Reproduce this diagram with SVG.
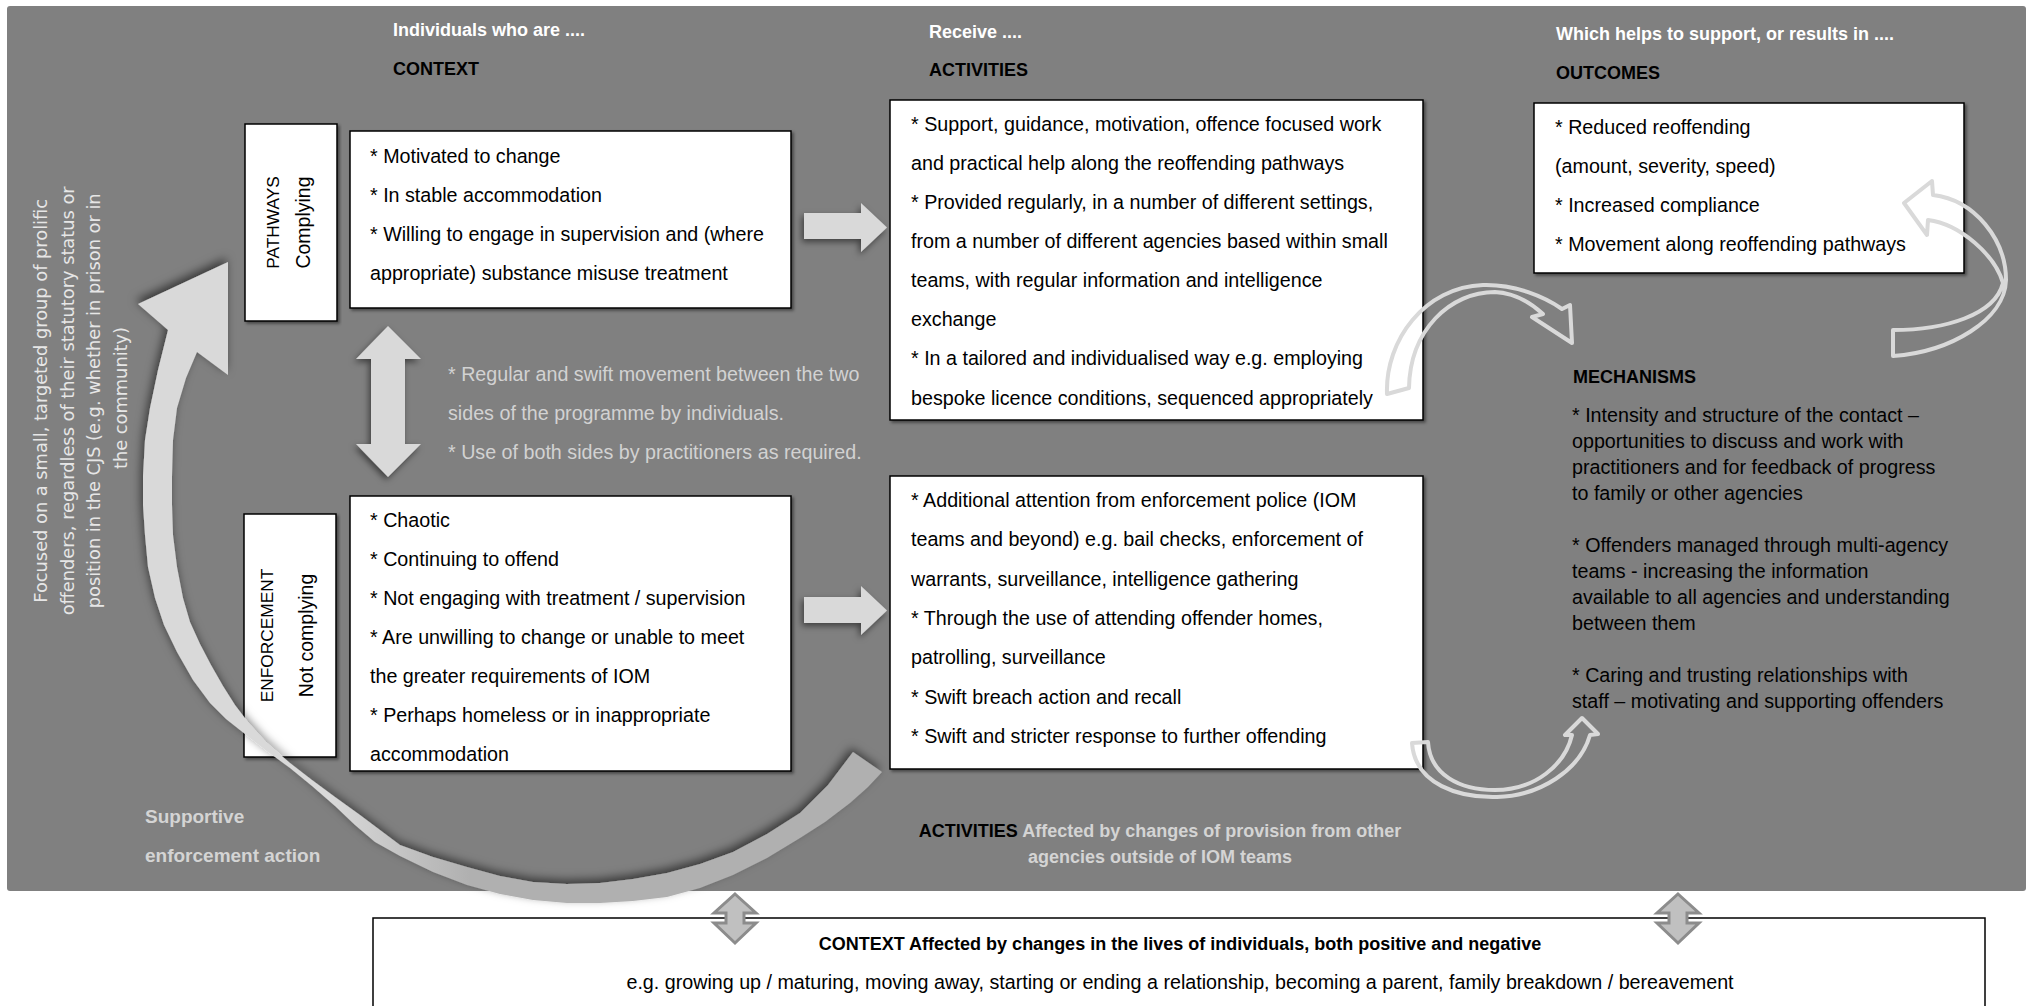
<svg xmlns="http://www.w3.org/2000/svg" width="2034" height="1006" viewBox="0 0 2034 1006">
<defs>
<style>
.t{font-family:"Liberation Sans",Arial,sans-serif;font-size:19.7px;fill:#000}
.hw{font-family:"Liberation Sans",Arial,sans-serif;font-size:18px;font-weight:bold;fill:#fff}
.hb{font-family:"Liberation Sans",Arial,sans-serif;font-size:18px;font-weight:bold;fill:#000}
.g{fill:#d2d2d2}
.box{fill:#fff;stroke:#000;stroke-width:1.5}
.la{fill:#d9d9d9}
.ol{fill:none;stroke:#d9d9d9;stroke-width:4;stroke-linejoin:round}
.sa{fill:#c0c0c0;stroke:#8c8c8c;stroke-width:3;stroke-linejoin:miter}
.vt{font-family:"DejaVu Sans",Verdana,sans-serif;font-size:17.8px;fill:#e6e6e6}
.lc{font-family:"Liberation Sans",Arial,sans-serif;font-size:17.3px;fill:#000}
.ll{font-family:"Liberation Sans",Arial,sans-serif;font-size:19.5px;fill:#000}
.sp{font-family:"Liberation Sans",Arial,sans-serif;font-size:19px;font-weight:bold;fill:#d4d4d4}
</style>
<filter id="bsh" x="-5%" y="-5%" width="110%" height="110%"><feDropShadow dx="2" dy="2" stdDeviation="1.5" flood-color="#000" flood-opacity="0.45"/></filter>
<filter id="ash" x="-30%" y="-30%" width="160%" height="160%"><feDropShadow dx="-2" dy="3" stdDeviation="3" flood-color="#000" flood-opacity="0.5"/></filter>
<filter id="csh" x="-20%" y="-20%" width="140%" height="140%"><feDropShadow dx="-2" dy="-4" stdDeviation="5" flood-color="#000" flood-opacity="0.55"/></filter>
<linearGradient id="cg" gradientUnits="userSpaceOnUse" x1="330" y1="0" x2="470" y2="0">
<stop offset="0" stop-color="#d9d9d9"/><stop offset="1" stop-color="#b0b0b0"/>
</linearGradient>
</defs>

<rect id="background" x="7" y="6" width="2019" height="885" rx="3" fill="#808080"/>

<g id="side-label">
<text class="vt" transform="translate(47,398) rotate(-90)" text-anchor="middle">
<tspan x="0" y="0">Focused on a small, targeted group of prolific</tspan>
<tspan x="0" y="26.5">offenders, regardless of their statutory status or</tspan>
<tspan x="0" y="53">position in the CJS (e.g. whether in prison or in</tspan>
<tspan x="0" y="79.5">the community)</tspan>
</text>
</g>

<g id="headers">
<text class="hw" x="393" y="36">Individuals who are ....</text>
<text class="hb" x="393" y="75">CONTEXT</text>
<text class="hw" x="929" y="38">Receive ....</text>
<text class="hb" x="929" y="76">ACTIVITIES</text>
<text class="hw" x="1556" y="40">Which helps to support, or results in ....</text>
<text class="hb" x="1556" y="79">OUTCOMES</text>
</g>

<g id="pathways-label">
<rect class="box" x="245" y="124" width="92" height="197" filter="url(#bsh)"/>
<text class="lc" transform="translate(279,222.5) rotate(-90)" text-anchor="middle">PATHWAYS</text>
<text class="ll" transform="translate(310,222.5) rotate(-90)" text-anchor="middle">Complying</text>
</g>

<g id="enforcement-label">
<rect class="box" x="244" y="514" width="92" height="243" filter="url(#bsh)"/>
<text class="lc" transform="translate(273,635.5) rotate(-90)" text-anchor="middle">ENFORCEMENT</text>
<text class="ll" transform="translate(313,635.5) rotate(-90)" text-anchor="middle">Not complying</text>
</g>

<g id="context-pathways">
<rect class="box" x="350" y="131" width="441" height="177" filter="url(#bsh)"/>
<text class="t" x="370" y="163">* Motivated to change</text>
<text class="t" x="370" y="202">* In stable accommodation</text>
<text class="t" x="370" y="241">* Willing to engage in supervision and (where</text>
<text class="t" x="370" y="280">appropriate) substance misuse treatment</text>
</g>

<g id="context-enforcement">
<rect class="box" x="350" y="496" width="441" height="275" filter="url(#bsh)"/>
<text class="t" x="370" y="527">* Chaotic</text>
<text class="t" x="370" y="566">* Continuing to offend</text>
<text class="t" x="370" y="605">* Not engaging with treatment / supervision</text>
<text class="t" x="370" y="644">* Are unwilling to change or unable to meet</text>
<text class="t" x="370" y="683">the greater requirements of IOM</text>
<text class="t" x="370" y="722">* Perhaps homeless or in inappropriate</text>
<text class="t" x="370" y="761">accommodation</text>
</g>

<g id="activities-pathways">
<rect class="box" x="890" y="100" width="533" height="320" filter="url(#bsh)"/>
<text class="t" x="911" y="131">* Support, guidance, motivation, offence focused work</text>
<text class="t" x="911" y="170">and practical help along the reoffending pathways</text>
<text class="t" x="911" y="209">* Provided regularly, in a number of different settings,</text>
<text class="t" x="911" y="248">from a number of different agencies based within small</text>
<text class="t" x="911" y="287">teams, with regular information and intelligence</text>
<text class="t" x="911" y="326">exchange</text>
<text class="t" x="911" y="365">* In a tailored and individualised way e.g. employing</text>
<text class="t" x="911" y="405">bespoke licence conditions, sequenced appropriately</text>
</g>

<g id="activities-enforcement">
<rect class="box" x="890" y="476" width="533" height="293" filter="url(#bsh)"/>
<text class="t" x="911" y="507">* Additional attention from enforcement police (IOM</text>
<text class="t" x="911" y="546">teams and beyond) e.g. bail checks, enforcement of</text>
<text class="t" x="911" y="586">warrants, surveillance, intelligence gathering</text>
<text class="t" x="911" y="625">* Through the use of attending offender homes,</text>
<text class="t" x="911" y="664">patrolling, surveillance</text>
<text class="t" x="911" y="704">* Swift breach action and recall</text>
<text class="t" x="911" y="743">* Swift and stricter response to further offending</text>
</g>

<g id="outcomes">
<rect class="box" x="1534" y="103" width="430" height="170" filter="url(#bsh)"/>
<text class="t" x="1555" y="134">* Reduced reoffending</text>
<text class="t" x="1555" y="173">(amount, severity, speed)</text>
<text class="t" x="1555" y="212">* Increased compliance</text>
<text class="t" x="1555" y="251">* Movement along reoffending pathways</text>
</g>

<g id="mechanisms">
<text class="hb" x="1573" y="383">MECHANISMS</text>
<text class="t" x="1572" y="422">* Intensity and structure of the contact –</text>
<text class="t" x="1572" y="448">opportunities to discuss and work with</text>
<text class="t" x="1572" y="474">practitioners and for feedback of progress</text>
<text class="t" x="1572" y="500">to family or other agencies</text>
<text class="t" x="1572" y="552">* Offenders managed through multi-agency</text>
<text class="t" x="1572" y="578">teams - increasing the information</text>
<text class="t" x="1572" y="604">available to all agencies and understanding</text>
<text class="t" x="1572" y="630">between them</text>
<text class="t" x="1572" y="682">* Caring and trusting relationships with</text>
<text class="t" x="1572" y="708">staff – motivating and supporting offenders</text>
</g>

<g id="movement-note">
<text class="t g" x="448" y="381">* Regular and swift movement between the two</text>
<text class="t g" x="448" y="420">sides of the programme by individuals.</text>
<text class="t g" x="448" y="459">* Use of both sides by practitioners as required.</text>
</g>

<g id="supportive-label">
<text class="sp" x="145" y="823">Supportive</text>
<text class="sp" x="145" y="862">enforcement action</text>
</g>

<g id="activities-note">
<text class="hb" x="1160" y="837" text-anchor="middle">ACTIVITIES <tspan style="fill:#d4d4d4">Affected by changes of provision from other</tspan></text>
<text class="hb" x="1160" y="863" text-anchor="middle" style="fill:#d4d4d4">agencies outside of IOM teams</text>
</g>

<g id="context-changes">
<rect class="box" x="373" y="918" width="1612" height="100"/>
<text class="hb" x="1180" y="950" text-anchor="middle">CONTEXT Affected by changes in the lives of individuals, both positive and negative</text>
<text class="t" x="1180" y="989" text-anchor="middle">e.g. growing up / maturing, moving away, starting or ending a relationship, becoming a parent, family breakdown / bereavement</text>
</g>

<g id="connectors">
<polygon class="la" filter="url(#ash)" points="804,213 861,213 861,203 887,227.5 861,252 861,239 804,239"/>
<polygon class="la" filter="url(#ash)" points="804,597 861,597 861,586 887,610.5 861,635 861,623 804,623"/>
<polygon class="la" filter="url(#ash)" points="388,326 421,359 405,359 405,444 421,444 388,477 356,444 371,444 371,359 356,359"/>
<path fill="url(#cg)" filter="url(#csh)" d="M138,304 L228,262 L228,375 L197,352 L186,378 L177,408 L173,440 L172,476 L172,505 L173,535 L177,567 L183,598 L190,622 L200,644 L211,665 L223,686 L235,705 L248,722 L266,742 L290,763 L312,780 L335,797 L360,815 L380,830 L400,845 L433,857 L467,867 L500,876 L533,882 L567,884 L600,883 L633,879 L667,873 L700,864 L733,852 L767,834 L800,813 L828,785 L853,752 L882,772 L868,787 L850,803 L825,822 L800,838 L767,858 L733,875 L700,888 L667,897 L633,901 L600,903 L567,903 L533,900 L500,894 L467,885 L433,872 L400,856 L375,842 L355,825 L335,806 L312,786 L290,768 L268,752 L245,734 L226,719 L210,703 L193,680 L177,652 L164,625 L155,598 L148,567 L145,535 L143,505 L143,476 L145,440 L150,408 L158,370 L168,330 Z"/>
<path class="ol" d="M1387,394 C1385,340 1425,287 1483,285 C1515,284 1545,297 1562,309 L1570,305 L1572,343 L1532,317 L1543,314 C1530,302 1515,293 1495,292 C1450,292 1410,330 1409,388 Z"/>
<path class="ol" d="M1893,356 C1950,352 2005,320 2006,280 C2006,240 1975,200 1933,195 L1932,181 L1904,203 L1927,235 L1928,220 C1960,224 1995,255 2003,283 C1995,315 1945,330 1893,330 Z"/>
<path class="ol" d="M1412,743 C1415,785 1460,798 1497,797 C1540,796 1580,770 1590,735 L1598,734 L1582,718 L1565,735 L1572,735 C1565,765 1535,790 1495,790 C1460,790 1430,775 1428,742 Z"/>
<polygon class="sa" points="735,894 756,913 744,913 744,923 756,923 735,943 714,923 726,923 726,913 714,913"/>
<polygon class="sa" points="1678,894 1699,913 1687,913 1687,923 1699,923 1678,943 1657,923 1669,923 1669,913 1657,913"/>
</g>
</svg>
